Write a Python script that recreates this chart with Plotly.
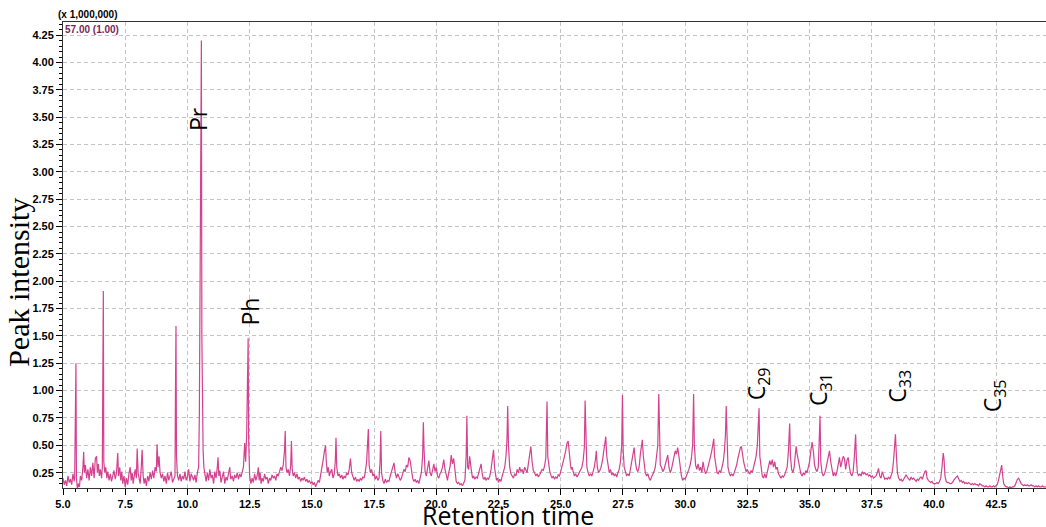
import plotly.graph_objects as go

# Retention time (min) and intensity (x 1,000,000)
retention_time = [
    5.00, 5.05, 5.10, 5.15, 5.20, 5.25, 5.30, 5.35, 5.40, 5.45,
    5.47, 5.49, 5.50, 5.52, 5.54, 5.58, 5.62, 5.66, 5.70, 5.75,
    5.80, 5.83, 5.86, 5.90, 5.95, 6.00, 6.05, 6.10, 6.15, 6.20,
    6.25, 6.30, 6.35, 6.38, 6.42, 6.46, 6.50, 6.55, 6.58, 6.60,
    6.62, 6.64, 6.68, 6.72, 6.76, 6.80, 6.85, 6.90, 6.95, 7.00,
    7.05, 7.10, 7.15, 7.20, 7.23, 7.28, 7.32, 7.36, 7.40, 7.45,
    7.50, 7.55, 7.60, 7.65, 7.70, 7.74, 7.78, 7.82, 7.86, 7.90,
    7.95, 7.98, 8.02, 8.06, 8.10, 8.14, 8.18, 8.22, 8.26, 8.30,
    8.35, 8.40, 8.45, 8.50, 8.55, 8.60, 8.65, 8.70, 8.75, 8.78,
    8.82, 8.86, 8.90, 8.95, 9.00, 9.05, 9.10, 9.15, 9.20, 9.25,
    9.30, 9.35, 9.40, 9.45, 9.50, 9.52, 9.54, 9.56, 9.60, 9.65,
    9.70, 9.75, 9.80, 9.85, 9.90, 9.95, 10.00, 10.05, 10.10, 10.15,
    10.20, 10.25, 10.30, 10.35, 10.40, 10.45, 10.48, 10.51, 10.54, 10.56,
    10.58, 10.60, 10.63, 10.66, 10.70, 10.75, 10.80, 10.85, 10.90, 10.95,
    11.00, 11.05, 11.10, 11.15, 11.20, 11.23, 11.26, 11.30, 11.35, 11.40,
    11.45, 11.50, 11.55, 11.60, 11.65, 11.70, 11.74, 11.80, 11.85, 11.90,
    11.95, 12.00, 12.05, 12.10, 12.15, 12.20, 12.25, 12.30, 12.34, 12.38,
    12.42, 12.44, 12.46, 12.50, 12.55, 12.60, 12.65, 12.70, 12.75, 12.80,
    12.85, 12.88, 12.92, 12.96, 13.00, 13.05, 13.10, 13.15, 13.20, 13.25,
    13.30, 13.35, 13.40, 13.45, 13.50, 13.55, 13.60, 13.65, 13.70, 13.75,
    13.80, 13.85, 13.90, 13.93, 13.96, 14.00, 14.05, 14.10, 14.15, 14.18,
    14.21, 14.25, 14.30, 14.35, 14.40, 14.45, 14.50, 14.55, 14.60, 14.65,
    14.70, 14.75, 14.80, 14.85, 14.90, 14.95, 15.00, 15.05, 15.10, 15.15,
    15.20, 15.25, 15.30, 15.35, 15.40, 15.45, 15.50, 15.55, 15.58, 15.62,
    15.66, 15.70, 15.75, 15.80, 15.85, 15.90, 15.94, 15.97, 16.00, 16.05,
    16.10, 16.15, 16.20, 16.25, 16.30, 16.35, 16.40, 16.45, 16.50, 16.55,
    16.60, 16.65, 16.70, 16.75, 16.80, 16.85, 16.90, 16.95, 17.00, 17.05,
    17.10, 17.15, 17.20, 17.24, 17.27, 17.30, 17.35, 17.40, 17.45, 17.50,
    17.55, 17.60, 17.65, 17.70, 17.74, 17.77, 17.80, 17.85, 17.90, 17.95,
    18.00, 18.05, 18.10, 18.15, 18.20, 18.25, 18.30, 18.35, 18.40, 18.45,
    18.50, 18.55, 18.60, 18.65, 18.70, 18.75, 18.80, 18.85, 18.90, 18.95,
    19.00, 19.05, 19.10, 19.15, 19.20, 19.25, 19.30, 19.35, 19.40, 19.45,
    19.48, 19.51, 19.55, 19.60, 19.65, 19.70, 19.75, 19.80, 19.85, 19.90,
    19.95, 20.00, 20.05, 20.10, 20.15, 20.20, 20.25, 20.30, 20.35, 20.40,
    20.45, 20.50, 20.55, 20.60, 20.65, 20.70, 20.75, 20.80, 20.85, 20.90,
    20.95, 21.00, 21.05, 21.10, 21.15, 21.20, 21.23, 21.26, 21.30, 21.34,
    21.38, 21.42, 21.46, 21.50, 21.55, 21.60, 21.65, 21.70, 21.75, 21.80,
    21.84, 21.88, 21.92, 21.96, 22.00, 22.05, 22.10, 22.15, 22.20, 22.25,
    22.30, 22.34, 22.38, 22.42, 22.46, 22.50, 22.55, 22.60, 22.65, 22.70,
    22.75, 22.80, 22.84, 22.87, 22.90, 22.95, 23.00, 23.05, 23.10, 23.15,
    23.20, 23.25, 23.30, 23.35, 23.40, 23.45, 23.50, 23.55, 23.60, 23.65,
    23.70, 23.75, 23.80, 23.85, 23.90, 23.95, 24.00, 24.05, 24.10, 24.15,
    24.20, 24.25, 24.30, 24.35, 24.40, 24.45, 24.48, 24.52, 24.56, 24.60,
    24.65, 24.70, 24.75, 24.80, 24.85, 24.90, 24.95, 25.00, 25.05, 25.10,
    25.15, 25.20, 25.25, 25.30, 25.34, 25.38, 25.42, 25.46, 25.50, 25.55,
    25.60, 25.65, 25.70, 25.75, 25.80, 25.85, 25.90, 25.95, 25.98, 26.01,
    26.05, 26.10, 26.15, 26.20, 26.25, 26.30, 26.35, 26.40, 26.43, 26.47,
    26.52, 26.57, 26.62, 26.67, 26.72, 26.77, 26.81, 26.85, 26.90, 26.95,
    27.00, 27.05, 27.10, 27.15, 27.20, 27.25, 27.30, 27.35, 27.40, 27.45,
    27.48, 27.51, 27.55, 27.60, 27.65, 27.70, 27.75, 27.80, 27.85, 27.90,
    27.95, 28.00, 28.05, 28.10, 28.15, 28.20, 28.25, 28.28, 28.32, 28.36,
    28.40, 28.45, 28.50, 28.55, 28.60, 28.65, 28.70, 28.75, 28.80, 28.85,
    28.90, 28.94, 28.97, 29.00, 29.05, 29.10, 29.15, 29.20, 29.25, 29.30,
    29.35, 29.40, 29.45, 29.50, 29.55, 29.60, 29.65, 29.70, 29.75, 29.80,
    29.85, 29.90, 29.95, 30.00, 30.05, 30.10, 30.15, 30.20, 30.25, 30.30,
    30.34, 30.37, 30.42, 30.47, 30.52, 30.57, 30.62, 30.67, 30.72, 30.77,
    30.82, 30.87, 30.92, 30.97, 31.02, 31.07, 31.12, 31.15, 31.18, 31.23,
    31.28, 31.33, 31.38, 31.43, 31.48, 31.53, 31.58, 31.62, 31.65, 31.68,
    31.72, 31.77, 31.82, 31.87, 31.92, 31.97, 32.02, 32.07, 32.12, 32.17,
    32.22, 32.26, 32.30, 32.35, 32.40, 32.45, 32.50, 32.55, 32.60, 32.65,
    32.70, 32.75, 32.80, 32.85, 32.90, 32.94, 32.97, 33.00, 33.05, 33.10,
    33.15, 33.20, 33.25, 33.30, 33.35, 33.40, 33.45, 33.50, 33.55, 33.60,
    33.65, 33.70, 33.75, 33.80, 33.85, 33.90, 33.95, 34.00, 34.05, 34.10,
    34.15, 34.20, 34.23, 34.28, 34.33, 34.38, 34.42, 34.46, 34.50, 34.55,
    34.60, 34.65, 34.70, 34.75, 34.80, 34.85, 34.90, 34.95, 35.00, 35.05,
    35.10, 35.15, 35.20, 35.25, 35.30, 35.35, 35.38, 35.42, 35.45, 35.50,
    35.55, 35.60, 35.65, 35.70, 35.75, 35.80, 35.85, 35.90, 35.95, 36.00,
    36.05, 36.10, 36.15, 36.20, 36.25, 36.30, 36.35, 36.40, 36.45, 36.50,
    36.55, 36.60, 36.65, 36.70, 36.75, 36.80, 36.85, 36.88, 36.92, 36.97,
    37.02, 37.07, 37.12, 37.17, 37.22, 37.27, 37.32, 37.37, 37.42, 37.47,
    37.52, 37.57, 37.62, 37.67, 37.72, 37.77, 37.82, 37.87, 37.92, 37.97,
    38.02, 38.07, 38.12, 38.17, 38.22, 38.27, 38.32, 38.37, 38.42, 38.45,
    38.49, 38.53, 38.58, 38.63, 38.68, 38.73, 38.78, 38.83, 38.88, 38.93,
    38.98, 39.03, 39.08, 39.13, 39.18, 39.23, 39.28, 39.33, 39.38, 39.43,
    39.48, 39.53, 39.58, 39.63, 39.68, 39.72, 39.77, 39.82, 39.87, 39.92,
    39.97, 40.02, 40.07, 40.12, 40.17, 40.22, 40.27, 40.32, 40.37, 40.40,
    40.44, 40.49, 40.54, 40.59, 40.64, 40.69, 40.74, 40.79, 40.84, 40.89,
    40.94, 40.99, 41.04, 41.09, 41.14, 41.19, 41.24, 41.29, 41.34, 41.39,
    41.44, 41.49, 41.54, 41.59, 41.64, 41.69, 41.74, 41.79, 41.84, 41.89,
    41.94, 41.99, 42.04, 42.09, 42.14, 42.19, 42.24, 42.29, 42.34, 42.39,
    42.44, 42.49, 42.54, 42.59, 42.64, 42.69, 42.72, 42.76, 42.80, 42.85,
    42.90, 42.95, 43.00, 43.05, 43.10, 43.15, 43.20, 43.25, 43.30, 43.35,
    43.40, 43.45, 43.50, 43.55, 43.60, 43.65, 43.70, 43.75, 43.80, 43.85,
    43.90, 43.95, 44.00, 44.05, 44.10, 44.15, 44.20, 44.25, 44.30, 44.35,
    44.40, 44.45, 44.50,
]

intensity = [
    0.20, 0.14, 0.18, 0.13, 0.22, 0.16, 0.19, 0.14, 0.24, 0.17,
    0.22, 1.10, 0.60, 1.25, 0.20, 0.10, 0.15, 0.12, 0.22, 0.18,
    0.30, 0.44, 0.25, 0.32, 0.20, 0.28, 0.18, 0.30, 0.22, 0.34,
    0.20, 0.38, 0.40, 0.25, 0.33, 0.22, 0.28, 0.20, 0.30, 1.20,
    1.91, 0.35, 0.25, 0.30, 0.20, 0.26, 0.18, 0.24, 0.17, 0.22,
    0.27, 0.19, 0.25, 0.43, 0.22, 0.30, 0.18, 0.26, 0.15, 0.22,
    0.12, 0.20, 0.14, 0.24, 0.30, 0.18, 0.25, 0.15, 0.22, 0.28,
    0.20, 0.47, 0.24, 0.20, 0.15, 0.28, 0.46, 0.22, 0.15, 0.20,
    0.13, 0.22, 0.17, 0.25, 0.19, 0.27, 0.20, 0.30, 0.26, 0.51,
    0.30, 0.40, 0.25, 0.20, 0.24, 0.17, 0.22, 0.15, 0.25, 0.18,
    0.23, 0.26, 0.16, 0.20, 0.22, 1.00, 1.59, 0.40, 0.22, 0.18,
    0.24, 0.17, 0.22, 0.19, 0.26, 0.18, 0.21, 0.28, 0.17, 0.24,
    0.20, 0.18, 0.23, 0.16, 0.25, 0.30, 0.80, 1.85, 3.00, 4.20,
    1.50, 0.52, 0.45, 0.30, 0.22, 0.17, 0.25, 0.18, 0.28, 0.20,
    0.23, 0.15, 0.26, 0.20, 0.30, 0.39, 0.22, 0.27, 0.16, 0.22,
    0.26, 0.15, 0.21, 0.18, 0.24, 0.30, 0.19, 0.22, 0.17, 0.23,
    0.20, 0.25, 0.19, 0.24, 0.21, 0.27, 0.30, 0.52, 0.35, 0.60,
    1.20, 1.48, 0.55, 0.22, 0.15, 0.20, 0.16, 0.24, 0.18, 0.22,
    0.30, 0.18, 0.25, 0.15, 0.20, 0.17, 0.24, 0.19, 0.21, 0.15,
    0.20, 0.18, 0.23, 0.20, 0.22, 0.18, 0.24, 0.22, 0.26, 0.30,
    0.27, 0.32, 0.45, 0.63, 0.30, 0.25, 0.28, 0.22, 0.32, 0.54,
    0.28, 0.22, 0.25, 0.20, 0.24, 0.19, 0.21, 0.17, 0.20, 0.18,
    0.21, 0.17, 0.19, 0.16, 0.18, 0.15, 0.17, 0.14, 0.16, 0.12,
    0.15, 0.18, 0.16, 0.22, 0.30, 0.36, 0.44, 0.50, 0.35, 0.25,
    0.30, 0.22, 0.26, 0.28, 0.20, 0.24, 0.35, 0.57, 0.30, 0.22,
    0.24, 0.20, 0.23, 0.19, 0.22, 0.20, 0.25, 0.23, 0.28, 0.38,
    0.25, 0.20, 0.18, 0.21, 0.17, 0.19, 0.17, 0.20, 0.18, 0.21,
    0.20, 0.26, 0.35, 0.52, 0.65, 0.32, 0.25, 0.28, 0.22, 0.24,
    0.19, 0.22, 0.18, 0.20, 0.35, 0.63, 0.25, 0.18, 0.15, 0.19,
    0.16, 0.18, 0.17, 0.22, 0.26, 0.30, 0.34, 0.25, 0.20, 0.24,
    0.21, 0.18, 0.20, 0.24, 0.28, 0.26, 0.32, 0.30, 0.39, 0.36,
    0.25, 0.20, 0.17, 0.19, 0.16, 0.18, 0.15, 0.20, 0.25, 0.40,
    0.71, 0.45, 0.26, 0.22, 0.28, 0.36, 0.25, 0.22, 0.27, 0.33,
    0.26, 0.30, 0.22, 0.20, 0.24, 0.26, 0.30, 0.37, 0.28, 0.22,
    0.18, 0.25, 0.30, 0.41, 0.33, 0.38, 0.25, 0.17, 0.15, 0.16,
    0.14, 0.15, 0.13, 0.16, 0.18, 0.40, 0.77, 0.30, 0.28, 0.40,
    0.30, 0.25, 0.20, 0.22, 0.19, 0.21, 0.20, 0.24, 0.27, 0.33,
    0.25, 0.20, 0.19, 0.21, 0.18, 0.20, 0.19, 0.22, 0.28, 0.38,
    0.46, 0.30, 0.22, 0.18, 0.20, 0.16, 0.19, 0.17, 0.22, 0.26,
    0.30, 0.40, 0.55, 0.86, 0.50, 0.30, 0.24, 0.22, 0.20, 0.24,
    0.22, 0.28, 0.25, 0.30, 0.26, 0.28, 0.24, 0.30, 0.27, 0.25,
    0.33, 0.40, 0.49, 0.35, 0.27, 0.25, 0.22, 0.24, 0.21, 0.23,
    0.25, 0.28, 0.27, 0.31, 0.38, 0.90, 0.40, 0.30, 0.26, 0.23,
    0.20, 0.22, 0.19, 0.21, 0.20, 0.23, 0.22, 0.26, 0.30, 0.35,
    0.40, 0.45, 0.52, 0.54, 0.42, 0.35, 0.28, 0.30, 0.26, 0.22,
    0.24, 0.21, 0.23, 0.25, 0.28, 0.30, 0.36, 0.48, 0.91, 0.45,
    0.30, 0.25, 0.22, 0.24, 0.22, 0.26, 0.30, 0.38, 0.45, 0.30,
    0.25, 0.27, 0.30, 0.35, 0.42, 0.50, 0.58, 0.40, 0.30, 0.25,
    0.28, 0.23, 0.25, 0.22, 0.24, 0.21, 0.25, 0.28, 0.35, 0.50,
    0.96, 0.45, 0.30, 0.25, 0.22, 0.24, 0.22, 0.28, 0.35, 0.40,
    0.48, 0.35, 0.28, 0.26, 0.30, 0.42, 0.50, 0.55, 0.40, 0.30,
    0.25, 0.22, 0.24, 0.20, 0.18, 0.21, 0.23, 0.26, 0.30, 0.38,
    0.50, 0.97, 0.45, 0.32, 0.30, 0.26, 0.28, 0.32, 0.36, 0.41,
    0.30, 0.25, 0.28, 0.34, 0.38, 0.45, 0.42, 0.48, 0.40, 0.28,
    0.22, 0.18, 0.20, 0.19, 0.22, 0.24, 0.28, 0.32, 0.38, 0.50,
    0.97, 0.50, 0.32, 0.28, 0.33, 0.27, 0.30, 0.25, 0.35, 0.28,
    0.24, 0.26, 0.30, 0.35, 0.40, 0.45, 0.50, 0.56, 0.40, 0.30,
    0.25, 0.24, 0.27, 0.25, 0.30, 0.35, 0.45, 0.60, 0.86, 0.45,
    0.30, 0.25, 0.22, 0.24, 0.22, 0.25, 0.28, 0.32, 0.38, 0.44,
    0.48, 0.49, 0.42, 0.35, 0.30, 0.26, 0.28, 0.25, 0.24, 0.27,
    0.25, 0.30, 0.33, 0.40, 0.50, 0.65, 0.84, 0.40, 0.28, 0.22,
    0.20, 0.24, 0.20, 0.25, 0.30, 0.36, 0.32, 0.37, 0.30, 0.35,
    0.28, 0.30, 0.24, 0.22, 0.20, 0.22, 0.21, 0.23, 0.26, 0.30,
    0.45, 0.70, 0.40, 0.28, 0.25, 0.30, 0.40, 0.49, 0.42, 0.35,
    0.28, 0.24, 0.22, 0.25, 0.23, 0.27, 0.25, 0.30, 0.35, 0.45,
    0.53, 0.45, 0.32, 0.28, 0.26, 0.30, 0.50, 0.77, 0.35, 0.25,
    0.22, 0.24, 0.28, 0.35, 0.40, 0.45, 0.35, 0.26, 0.22, 0.25,
    0.22, 0.26, 0.35, 0.39, 0.30, 0.35, 0.40, 0.38, 0.28, 0.36,
    0.39, 0.30, 0.24, 0.22, 0.26, 0.40, 0.60, 0.38, 0.25, 0.22,
    0.24, 0.22, 0.26, 0.24, 0.25, 0.23, 0.24, 0.22, 0.23, 0.21,
    0.22, 0.20, 0.21, 0.22, 0.25, 0.29, 0.22, 0.20, 0.26, 0.21,
    0.19, 0.20, 0.19, 0.21, 0.19, 0.22, 0.25, 0.35, 0.55, 0.60,
    0.40, 0.25, 0.20, 0.18, 0.19, 0.17, 0.19, 0.21, 0.23, 0.21,
    0.19, 0.18, 0.21, 0.19, 0.20, 0.18, 0.17, 0.19, 0.18, 0.20,
    0.21, 0.19, 0.22, 0.26, 0.27, 0.20, 0.18, 0.17, 0.16, 0.17,
    0.15, 0.15, 0.15, 0.16, 0.15, 0.17, 0.20, 0.30, 0.43, 0.38,
    0.22, 0.17, 0.16, 0.16, 0.15, 0.15, 0.16, 0.18, 0.20, 0.21,
    0.22, 0.19, 0.17, 0.18, 0.16, 0.17, 0.15, 0.16, 0.15, 0.16,
    0.15, 0.14, 0.15, 0.14, 0.15, 0.14, 0.14, 0.13, 0.15, 0.14,
    0.13, 0.13, 0.12, 0.13, 0.12, 0.12, 0.13, 0.12, 0.12, 0.13,
    0.12, 0.13, 0.14, 0.18, 0.25, 0.31, 0.32, 0.22, 0.15, 0.13,
    0.12, 0.12, 0.11, 0.12, 0.11, 0.12, 0.12, 0.13, 0.16, 0.19,
    0.20, 0.17, 0.15, 0.14, 0.13, 0.14, 0.13, 0.14, 0.13, 0.13,
    0.14, 0.13, 0.13, 0.12, 0.13, 0.12, 0.13, 0.12, 0.12, 0.13,
    0.12, 0.12, 0.12,
]

x_tick_values = [5.0, 7.5, 10.0, 12.5, 15.0, 17.5, 20.0, 22.5, 25.0, 27.5,
                 30.0, 32.5, 35.0, 37.5, 40.0, 42.5]
y_tick_values = [0.25, 0.50, 0.75, 1.00, 1.25, 1.50, 1.75, 2.00, 2.25, 2.50,
                 2.75, 3.00, 3.25, 3.50, 3.75, 4.00, 4.25]

peak_labels = ["Pr", "Ph", "C<sub>29</sub>", "C<sub>31</sub>", "C<sub>33</sub>", "C<sub>35</sub>"]
peak_label_rt = [10.45, 12.50, 32.92, 35.40, 38.57, 42.38]
peak_label_y = [3.48, 1.72, 1.065, 1.01, 1.04, 0.95]

line_color = "#d4418f"
grid_color = "#c4c4c4"
tick_font = dict(family="Liberation Sans", size=11, color="black", weight="bold")

fig = go.Figure()
fig.add_trace(go.Scatter(
    x=retention_time, y=intensity, mode="lines",
    line=dict(color=line_color, width=1.2), showlegend=False,
))

fig.update_layout(
    width=1046, height=527,
    margin=dict(l=63, r=0, t=22, b=39),
    paper_bgcolor="white", plot_bgcolor="white",
    showlegend=False,
)

fig.update_xaxes(
    range=[5.0, 44.5], tickvals=x_tick_values,
    ticktext=[f"{v:.1f}" for v in x_tick_values],
    tickfont=tick_font, ticks="outside", ticklen=6, tickcolor="black",
    showline=True, linecolor="#333333", linewidth=1, mirror=True,
    showgrid=True, gridcolor=grid_color, griddash="4px,3px", gridwidth=1,
    zeroline=False,
    minor=dict(dtick=0.5, tick0=0, ticks="outside", ticklen=3, tickcolor="black", showgrid=False),
)
fig.update_yaxes(
    range=[0.11, 4.37], tickvals=y_tick_values,
    ticktext=[f"{v:.2f}" for v in y_tick_values],
    tickfont=tick_font, ticks="outside", ticklen=6, tickcolor="black",
    showline=True, linecolor="#333333", linewidth=1,
    showgrid=True, gridcolor=grid_color, griddash="4px,3px", gridwidth=1,
    zeroline=False,
    minor=dict(dtick=0.05, tick0=0, ticks="outside", ticklen=3, tickcolor="black", showgrid=False),
)

annotations = []
for lbl, rx, ry in zip(peak_labels, peak_label_rt, peak_label_y):
    annotations.append(dict(
        x=rx, y=ry, xref="x", yref="y", text=lbl, showarrow=False,
        textangle=-90, xanchor="center", yanchor="middle",
        font=dict(family="Open Sans", size=23, color="black"),
    ))

annotations += [
    dict(x=-0.046, y=0.442, xref="paper", yref="paper", text="Peak intensity",
         showarrow=False, textangle=-90, xanchor="center", yanchor="middle",
         font=dict(family="Liberation Serif", size=30, color="black")),
    dict(x=0.4527, y=-0.058, xref="paper", yref="paper", text="Retention time",
         showarrow=False, xanchor="center", yanchor="middle",
         font=dict(family="Open Sans", size=25, color="black")),
    dict(x=-0.007, y=1.0, xref="paper", yref="paper", text="(x 1,000,000)",
         showarrow=False, xanchor="left", yanchor="bottom",
         font=dict(family="Liberation Sans", size=10, color="black", weight="bold")),
    dict(x=0.0, y=1.0, xref="paper", yref="paper", text="57.00 (1.00)",
         showarrow=False, xanchor="left", yanchor="top",
         font=dict(family="Liberation Sans", size=10, color="#7a1f5c", weight="bold")),
]
fig.update_layout(annotations=annotations)

fig.write_html("out.html")
